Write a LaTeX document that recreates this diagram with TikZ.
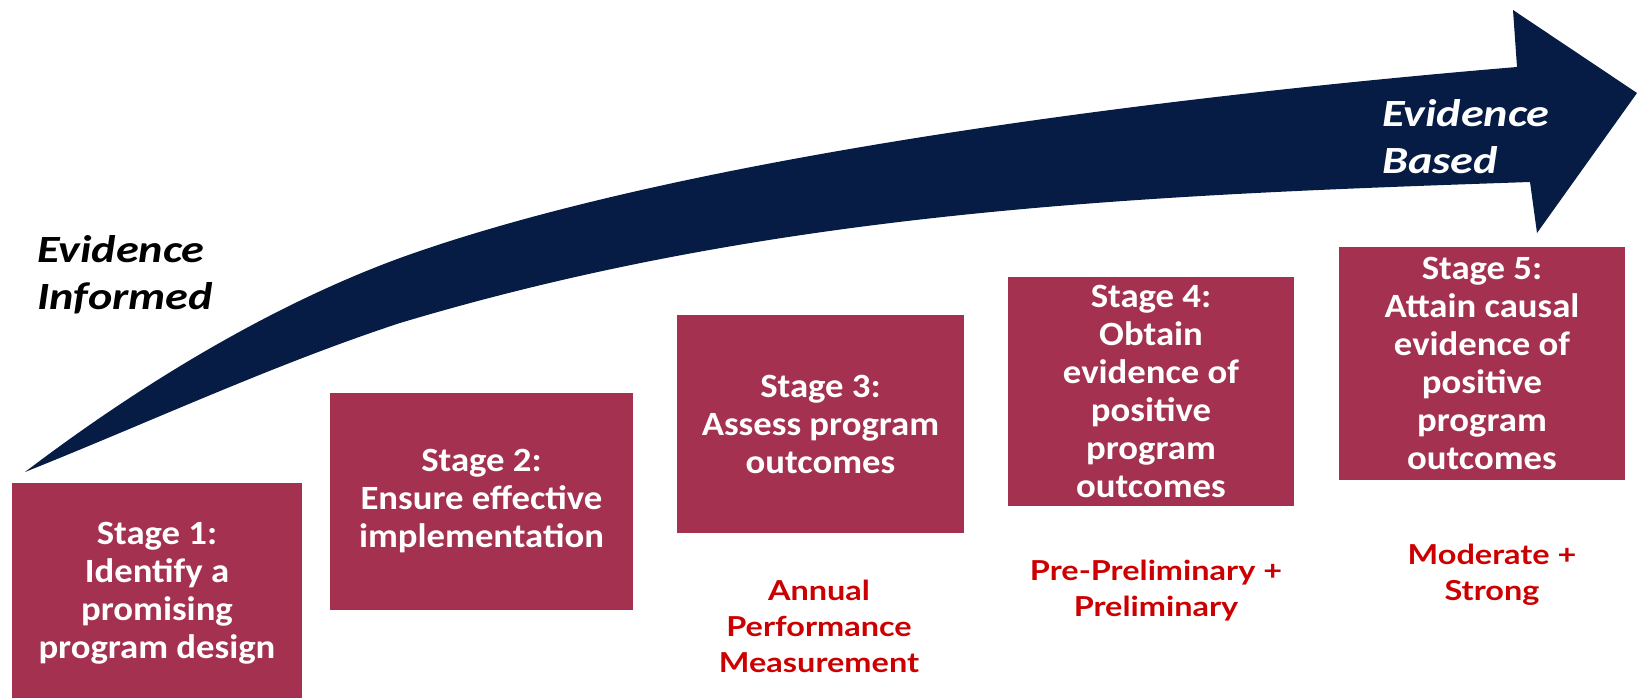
\documentclass[tikz,border=0pt]{standalone}
\usepackage{fontspec}
\setmainfont{Carlito}
\newfontfamily\boxfont[FakeStretch=1.08]{Carlito}
\newfontfamily\evfont[FakeStretch=1.2]{Carlito}
\newfontfamily\redfont[FakeStretch=1.18]{Lato}
\definecolor{navyarrow}{HTML}{061C44}
\definecolor{stagefill}{HTML}{A43150}
\definecolor{levelred}{HTML}{CC0000}
\tikzset{
  stagebox/.style={fill=stagefill, text=white, inner sep=0pt, align=center,
    font=\boxfont\bfseries\fontsize{34}{38}\selectfont},
  evlabel/.style={inner sep=0pt, align=left, anchor=west,
    font=\evfont\bfseries\itshape\fontsize{38.5}{47}\selectfont},
  levellabel/.style={text=levelred, inner sep=0pt, align=center,
    font=\redfont\bfseries\fontsize{27.5}{36}\selectfont}
}
\begin{document}
\begin{tikzpicture}[x=1pt,y=-1pt]
\useasboundingbox (0,0) rectangle (1639,698);
\clip (0,0) rectangle (1639,698);
\fill[white] (0,0) rectangle (1639,698);
% curved arrow
\fill[navyarrow]
  (25,472) .. controls (150,377) and (280,302) .. (400,258)
  .. controls (700,150) and (1217,92) .. (1517,67)
  -- (1513,10) -- (1637,93) -- (1537,233) -- (1530,182)
  .. controls (1150,195) and (780,209) .. (400,323)
  .. controls (275,364) and (150,422) .. (25,472)
  -- cycle;
% stage boxes
\node[stagebox, minimum width=290, minimum height=220] (s1) at (157,593) {Stage 1:\\Identify a\\promising\\program design};
\node[stagebox, minimum width=303, minimum height=217] (s2) at (481.5,501.5) {Stage 2:\\Ensure effective\\implementation};
\node[stagebox, minimum width=287, minimum height=218] (s3) at (820.5,424) {Stage 3:\\Assess program\\outcomes};
\node[stagebox, minimum width=286, minimum height=229] (s4) at (1151,391.5) {Stage 4:\\Obtain\\evidence of\\positive\\program\\outcomes};
\node[stagebox, minimum width=286, minimum height=233] (s5) at (1482,363.5) {Stage 5:\\Attain causal\\evidence of\\positive\\program\\outcomes};
% arrow labels
\node[evlabel] (evinf) at (37,275) {Evidence\\Informed};
\node[evlabel, text=white] (evbased) at (1382,136.5) {Evidence\\Based};
% evidence levels
\node[levellabel] (l3) at (819,626.5) {Annual\\Performance\\Measurement};
\node[levellabel] (l4) at (1156,590.5) {Pre-Preliminary +\\Preliminary};
\node[levellabel] (l5) at (1492,575) {Moderate +\\Strong};
\end{tikzpicture}
\end{document}
